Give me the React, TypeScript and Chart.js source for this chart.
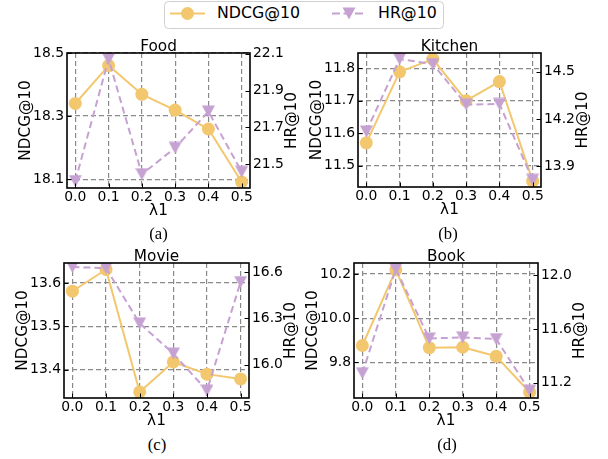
import React, { useEffect, useRef } from 'react';
import { Chart, registerables } from 'chart.js';

Chart.register(...registerables);

const FONT = '"DejaVu Sans", sans-serif';
const YELLOW = '#F2C76E';
const PURPLE = '#C6A2D2';
const GRID = '#8a8a8a';

const lambdas = [0.0, 0.1, 0.2, 0.3, 0.4, 0.5];
const xTicks = [0.0, 0.1, 0.2, 0.3, 0.4, 0.5];

const foodNdcg = [18.34, 18.46, 18.369, 18.319, 18.259, 18.091];
const foodHr = [21.408, 22.071, 21.445, 21.588, 21.786, 21.458];
const foodNdcgTicks = [18.1, 18.3, 18.5];
const foodHrTicks = [21.5, 21.7, 21.9, 22.1];

const kitchenNdcg = [11.57, 11.789, 11.828, 11.7, 11.759, 11.452];
const kitchenHr = [14.121, 14.579, 14.547, 14.291, 14.295, 13.815];
const kitchenNdcgTicks = [11.5, 11.6, 11.7, 11.8];
const kitchenHrTicks = [13.9, 14.2, 14.5];

const movieNdcg = [13.581, 13.631, 13.349, 13.418, 13.39, 13.379];
const movieHr = [16.632, 16.625, 16.268, 16.073, 15.834, 16.535];
const movieNdcgTicks = [13.4, 13.5, 13.6];
const movieHrTicks = [16.0, 16.3, 16.6];

const bookNdcg = [9.876, 10.219, 9.866, 9.868, 9.827, 9.664];
const bookHr = [11.27, 12.048, 11.53, 11.537, 11.525, 11.14];
const bookNdcgTicks = [9.8, 10.0, 10.2];
const bookHrTicks = [11.2, 11.6, 12.0];

type PanelDef = {
  title: string;
  caption: string;
  ndcg: number[];
  hr: number[];
  ndcgTicks: number[];
  hrTicks: number[];
  ndcgRange: [number, number];
  hrRange: [number, number];
  rect: { left: number; top: number; right: number; bottom: number };
};

const panels: PanelDef[] = [
  {
    title: 'Food', caption: '(a)', ndcg: foodNdcg, hr: foodHr,
    ndcgTicks: foodNdcgTicks, hrTicks: foodHrTicks,
    ndcgRange: [18.072, 18.5], hrRange: [21.37, 22.104],
    rect: { left: 67, top: 53, right: 250, bottom: 188 },
  },
  {
    title: 'Kitchen', caption: '(b)', ndcg: kitchenNdcg, hr: kitchenHr,
    ndcgTicks: kitchenNdcgTicks, hrTicks: kitchenHrTicks,
    ndcgRange: [11.434, 11.847], hrRange: [13.77, 14.617],
    rect: { left: 358, top: 53, right: 541, bottom: 187 },
  },
  {
    title: 'Movie', caption: '(c)', ndcg: movieNdcg, hr: movieHr,
    ndcgTicks: movieNdcgTicks, hrTicks: movieHrTicks,
    ndcgRange: [13.335, 13.646], hrRange: [15.786, 16.658],
    rect: { left: 64, top: 263, right: 249, bottom: 398 },
  },
  {
    title: 'Book', caption: '(d)', ndcg: bookNdcg, hr: bookHr,
    ndcgTicks: bookNdcgTicks, hrTicks: bookHrTicks,
    ndcgRange: [9.638, 10.25], hrRange: [11.085, 12.093],
    rect: { left: 354, top: 263, right: 538, bottom: 398 },
  },
];

const LW = 66;
const RW = 66;
const TP = 26;
const BH = 34;

function makeTriangle(): HTMLCanvasElement {
  const c = document.createElement('canvas');
  c.width = 13;
  c.height = 13;
  const ctx = c.getContext('2d')!;
  ctx.fillStyle = PURPLE;
  ctx.beginPath();
  ctx.moveTo(0, 0.5);
  ctx.lineTo(13, 0.5);
  ctx.lineTo(6.5, 12.5);
  ctx.closePath();
  ctx.fill();
  return c;
}

function Panel({ p }: { p: PanelDef }) {
  const ref = useRef<HTMLCanvasElement>(null);
  const w = p.rect.right - p.rect.left + LW + RW;
  const h = p.rect.bottom - p.rect.top + TP + BH;

  useEffect(() => {
    const tri = makeTriangle();
    const frame = {
      id: 'frame',
      afterDraw(chart: any) {
        const { ctx, chartArea: a, scales } = chart;
        ctx.save();
        ctx.strokeStyle = '#000';
        ctx.lineWidth = 1;
        p.ndcgTicks.forEach((v) => {
          const y = Math.round(scales.y.getPixelForValue(v)) + 0.5;
          ctx.beginPath();
          ctx.moveTo(a.left, y);
          ctx.lineTo(a.left + 4.5, y);
          ctx.stroke();
        });
        p.hrTicks.forEach((v) => {
          const y = Math.round(scales.y1.getPixelForValue(v)) + 0.5;
          ctx.beginPath();
          ctx.moveTo(a.right, y);
          ctx.lineTo(a.right - 4.5, y);
          ctx.stroke();
        });
        xTicks.forEach((v) => {
          const x = Math.round(scales.x.getPixelForValue(v)) + 0.5;
          ctx.beginPath();
          ctx.moveTo(x, a.bottom);
          ctx.lineTo(x, a.bottom - 4.5);
          ctx.stroke();
        });
        ctx.lineWidth = 1.6;
        ctx.strokeRect(a.left, a.top, a.right - a.left, a.bottom - a.top);

        ctx.fillStyle = '#000';
        ctx.font = `15.3px ${FONT}`;
        ctx.textAlign = 'center';
        ctx.textBaseline = 'alphabetic';
        const cx = (a.left + a.right) / 2;
        const cy = (a.top + a.bottom) / 2;
        ctx.fillText(p.title, cx, a.top - 2.5);
        ctx.fillText('λ1', cx, a.bottom + 27);
        ctx.textBaseline = 'middle';
        ctx.save();
        ctx.translate(a.left - 41, cy);
        ctx.rotate(-Math.PI / 2);
        ctx.fillText('NDCG@10', 0, 0);
        ctx.restore();
        ctx.save();
        ctx.translate(a.right + 42, cy);
        ctx.rotate(-Math.PI / 2);
        ctx.fillText('HR@10', 0, 0);
        ctx.restore();
        ctx.restore();
      },
    };

    const tickFont = { family: FONT, size: 13.9 };
    const chart = new Chart(ref.current!, {
      type: 'line',
      data: {
        datasets: [
          {
            label: 'HR@10',
            data: lambdas.map((x, i) => ({ x, y: p.hr[i] })),
            yAxisID: 'y1',
            borderColor: PURPLE,
            backgroundColor: PURPLE,
            borderWidth: 2,
            borderDash: [7, 4],
            borderJoinStyle: 'round',
            pointStyle: tri as any,
            pointRadius: 6.5,
            clip: 0,
          } as any,
          {
            label: 'NDCG@10',
            data: lambdas.map((x, i) => ({ x, y: p.ndcg[i] })),
            yAxisID: 'y',
            borderColor: YELLOW,
            backgroundColor: YELLOW,
            pointBackgroundColor: YELLOW,
            borderWidth: 2,
            borderJoinStyle: 'round',
            pointStyle: 'circle',
            pointRadius: 6.5,
            pointBorderWidth: 0,
            clip: 0,
          } as any,
        ],
      },
      options: {
        animation: false,
        responsive: false,
        maintainAspectRatio: false,
        events: [],
        layout: { padding: { top: TP, left: 0, right: 0, bottom: 0 } },
        plugins: {
          legend: { display: false },
          tooltip: { enabled: false },
          title: { display: false },
        },
        scales: {
          x: {
            type: 'linear',
            position: 'bottom',
            min: -0.025,
            max: 0.525,
            bounds: 'data',
            afterBuildTicks: (s: any) => {
              s.ticks = xTicks.map((v) => ({ value: v }));
            },
            afterFit: (s: any) => {
              s.height = BH;
              s.paddingLeft = 0;
              s.paddingRight = 0;
              s.paddingTop = 0;
              s.paddingBottom = 0;
            },
            ticks: {
              autoSkip: false,
              maxRotation: 0,
              minRotation: 0,
              padding: 1,
              color: '#000',
              font: tickFont,
              callback: (v: any) => Number(v).toFixed(1),
            },
            grid: { drawTicks: false, color: GRID, lineWidth: 1.2 },
            border: { display: false, dash: [5, 3] },
          },
          y: {
            type: 'linear',
            position: 'left',
            min: p.ndcgRange[0],
            max: p.ndcgRange[1],
            bounds: 'data',
            afterBuildTicks: (s: any) => {
              s.ticks = p.ndcgTicks.map((v) => ({ value: v }));
            },
            afterFit: (s: any) => {
              s.width = LW;
              s.paddingLeft = 0;
              s.paddingRight = 0;
              s.paddingTop = 0;
              s.paddingBottom = 0;
            },
            ticks: {
              autoSkip: false,
              padding: 3,
              color: '#000',
              font: tickFont,
              callback: (v: any) => Number(v).toFixed(1),
            },
            grid: { drawTicks: false, color: GRID, lineWidth: 1.2 },
            border: { display: false, dash: [5, 3] },
          },
          y1: {
            type: 'linear',
            position: 'right',
            min: p.hrRange[0],
            max: p.hrRange[1],
            bounds: 'data',
            afterBuildTicks: (s: any) => {
              s.ticks = p.hrTicks.map((v) => ({ value: v }));
            },
            afterFit: (s: any) => {
              s.width = RW;
              s.paddingLeft = 0;
              s.paddingRight = 0;
              s.paddingTop = 0;
              s.paddingBottom = 0;
            },
            ticks: {
              autoSkip: false,
              padding: 3,
              color: '#000',
              font: tickFont,
              callback: (v: any) => Number(v).toFixed(1),
            },
            grid: { display: false, drawTicks: false },
            border: { display: false },
          },
        },
      } as any,
      plugins: [frame],
    });
    return () => chart.destroy();
  }, [p]);

  return (
    <canvas
      ref={ref}
      width={w}
      height={h}
      style={{
        position: 'absolute',
        left: p.rect.left - LW,
        top: p.rect.top - TP,
        width: w,
        height: h,
      }}
    />
  );
}

function Legend() {
  const ox = 164;
  const oy = 1;
  return (
    <div style={{ position: 'absolute', left: ox, top: oy, width: 280, height: 28 }}>
      <svg width={280} height={28} style={{ position: 'absolute', left: 0, top: 0 }}>
        <rect x={0.5} y={0.5} width={279} height={27} rx={4} ry={4} fill="#fff" stroke="#d0d0d0" strokeWidth={1} />
        <line x1={170 - ox} y1={13.5 - oy} x2={205 - ox} y2={13.5 - oy} stroke={YELLOW} strokeWidth={2} />
        <circle cx={187.5 - ox} cy={13.5 - oy} r={6.5} fill={YELLOW} />
        <line x1={332 - ox} y1={13.5 - oy} x2={366 - ox} y2={13.5 - oy} stroke={PURPLE} strokeWidth={2} strokeDasharray="8 3.5" />
        <polygon
          points={`${342.5 - ox},${7.5 - oy} ${355.5 - ox},${7.5 - oy} ${349 - ox},${19.5 - oy}`}
          fill={PURPLE}
        />
      </svg>
      <span
        style={{
          position: 'absolute', left: 217 - ox, top: 3.2 - oy, font: `15.8px ${FONT}`,
          lineHeight: '20px', whiteSpace: 'nowrap', color: '#000',
        }}
      >
        NDCG@10
      </span>
      <span
        style={{
          position: 'absolute', left: 378 - ox, top: 3.2 - oy, font: `15.8px ${FONT}`,
          lineHeight: '20px', whiteSpace: 'nowrap', color: '#000',
        }}
      >
        HR@10
      </span>
    </div>
  );
}

const captionPos: { [k: string]: [number, number] } = {
  '(a)': [158.5, 236],
  '(b)': [448, 236],
  '(c)': [157, 447],
  '(d)': [447, 446.5],
};

export default function App() {
  return (
    <div
      style={{
        position: 'absolute', left: 0, top: 0, width: 608, height: 459,
        background: '#fff', overflow: 'hidden',
      }}
    >
      <Legend />
      {panels.map((p) => (
        <Panel key={p.title} p={p} />
      ))}
      {panels.map((p) => {
        const [cx, cy] = captionPos[p.caption];
        return (
          <div
            key={p.caption}
            style={{
              position: 'absolute', left: cx - 20, width: 40, top: cy - 11.6,
              textAlign: 'center', font: '16.7px "Liberation Serif", serif',
              lineHeight: '20px', color: '#000',
            }}
          >
            {p.caption}
          </div>
        );
      })}
    </div>
  );
}
